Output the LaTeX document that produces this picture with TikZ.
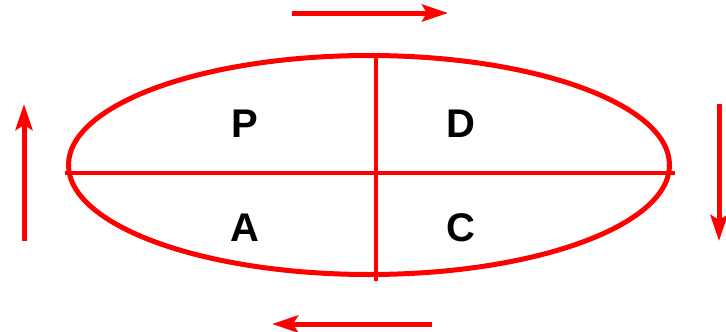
\documentclass[tikz,border=0pt]{standalone}
\usepackage{fontspec}
\setmainfont{Liberation Sans}
\usetikzlibrary{arrows.meta,shapes.geometric}
\begin{document}
\begin{tikzpicture}[x=1pt,y=-1pt,
  redline/.style={draw=red,line width=4pt},
  flowarrow/.style={draw=red,line width=5pt,-{Stealth[length=26pt,width=17pt,inset=5pt]}},
  lbl/.style={font=\fontsize{40}{40}\selectfont\bfseries,text=black,inner sep=0pt}]
\useasboundingbox (0,0) rectangle (726,332);
\node[draw=red,line width=5pt,ellipse,minimum width=601pt,minimum height=219pt,inner sep=0pt] (ell) at (369,165) {};
\coordinate (hl) at (65,173);
\coordinate (hr) at (675,173);
\coordinate (vt) at (376,56);
\coordinate (vb) at (376,281);
\draw[redline] (hl) -- (hr);
\draw[redline] (vt) -- (vb);
\node[lbl] (P) at (245,124) {P};
\node[lbl] (D) at (461,124) {D};
\node[lbl] (A) at (245,228) {A};
\node[lbl] (C) at (461,228) {C};
\coordinate (t1) at (292,13);
\coordinate (t2) at (448,13);
\coordinate (b1) at (432,324);
\coordinate (b2) at (272,324);
\coordinate (l1) at (24,241);
\coordinate (l2) at (24,104);
\coordinate (r1) at (719,104);
\coordinate (r2) at (719,241);
\draw[flowarrow] (t1) -- (t2);
\draw[flowarrow] (b1) -- (b2);
\draw[flowarrow] (l1) -- (l2);
\draw[flowarrow] (r1) -- (r2);
\end{tikzpicture}
\end{document}
